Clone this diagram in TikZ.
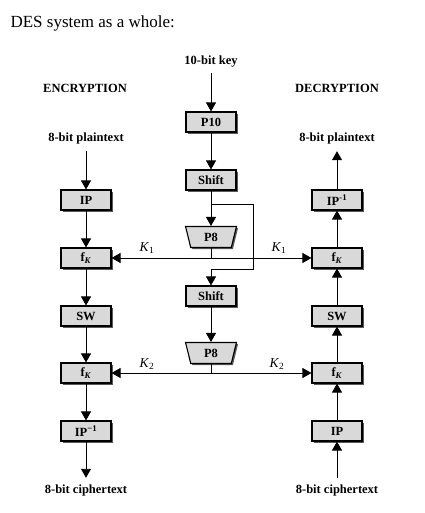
\documentclass[tikz,border=0pt]{standalone}
\usepackage{fontspec}
\setmainfont{Liberation Serif}
\usetikzlibrary{arrows.meta,shapes.geometric,shadows}

\begin{document}
\begin{tikzpicture}[x=1pt, y=-1pt,
    blk/.style={draw, line width=1.1pt, fill=gray!30, minimum width=50pt, minimum height=20pt,
        inner sep=0pt, font=\fontsize{12.5}{14}\selectfont\bfseries,
        drop shadow={shadow xshift=1.6pt, shadow yshift=-1.6pt, fill=black!65, opacity=1}},
    perm/.style={blk, trapezium, trapezium left angle=78, trapezium right angle=78,
        shape border rotate=180, trapezium stretches=true, minimum width=51pt, minimum height=21pt},
    lbl/.style={font=\fontsize{12.5}{14}\selectfont\bfseries},
    klbl/.style={font=\fontsize{13.5}{15}\selectfont},
    conn/.style={line width=0.9pt, -{Triangle[length=9pt, width=10pt]}},
    wire/.style={line width=0.9pt}]
    \useasboundingbox (0,0) rectangle (424,513);

    % Title and headings
    \node[anchor=base west, font=\fontsize{17}{20}\selectfont] (title) at (7,28) {DES system as a whole:};
    \node[lbl] (key) at (211,62) {10-bit key};
    \node[lbl] (enc) at (85,88) {ENCRYPTION};
    \node[lbl] (dec) at (337,88) {DECRYPTION};

    % Encryption column
    \node[lbl] (ptL) at (86,138) {8-bit plaintext};
    \node[blk] (ipL) at (86,200) {IP};
    \node[blk] (fkL1) at (86,258) {f\textsubscript{\textit{K}}};
    \node[blk] (swL) at (86,316) {SW};
    \node[blk] (fkL2) at (86,373) {f\textsubscript{\textit{K}}};
    \node[blk] (ipiL) at (86,431) {IP\textsuperscript{−1}};
    \node[lbl] (ctL) at (86,490) {8-bit ciphertext};

    % Key generation
    \node[blk] (p10) at (211,122) {P10};
    \node[blk] (sh1) at (211,180) {Shift};
    \node[perm] (p8a) at (211,237) {P8};
    \node[blk] (sh2) at (211,296) {Shift};
    \node[perm] (p8b) at (211,353) {P8};

    % Decryption column
    \node[lbl] (ptR) at (337,138) {8-bit plaintext};
    \node[blk] (ipiR) at (337,200) {IP\textsuperscript{-1}};
    \node[blk] (fkR1) at (337,258) {f\textsubscript{\textit{K}}};
    \node[blk] (swR) at (337,316) {SW};
    \node[blk] (fkR2) at (337,373) {f\textsubscript{\textit{K}}};
    \node[blk] (ipR) at (337,431) {IP};
    \node[lbl] (ctR) at (337,490) {8-bit ciphertext};

    % Subkey labels
    \node[klbl] (k1L) at (147,248) {\textit{K}\textsubscript{1}};
    \node[klbl] (k1R) at (279,248) {\textit{K}\textsubscript{1}};
    \node[klbl] (k2L) at (147,364) {\textit{K}\textsubscript{2}};
    \node[klbl] (k2R) at (277,364) {\textit{K}\textsubscript{2}};

    % Encryption flow
    \draw[conn, shorten <=4pt] (ptL) -- (ipL);
    \draw[conn] (ipL) -- (fkL1);
    \draw[conn] (fkL1) -- (swL);
    \draw[conn] (swL) -- (fkL2);
    \draw[conn] (fkL2) -- (ipiL);
    \draw[conn, shorten >=3pt] (ipiL) -- (ctL);

    % Decryption flow
    \draw[conn, shorten <=3pt] (ctR) -- (ipR);
    \draw[conn] (ipR) -- (fkR2);
    \draw[conn] (fkR2) -- (swR);
    \draw[conn] (swR) -- (fkR1);
    \draw[conn] (fkR1) -- (ipiR);
    \draw[conn, shorten >=4pt] (ipiR) -- (ptR);

    % Key schedule
    \coordinate (b1) at (211,204);
    \coordinate (b2) at (253,269);
    \coordinate (k1) at (p8a.south |- fkL1);
    \coordinate (k2) at (p8b.south |- fkL2);
    \draw[conn, shorten <=2pt] (key) -- (p10);
    \draw[conn] (p10) -- (sh1);
    \draw[conn] (sh1) -- (p8a);
    \draw[conn] (b1) -| (b2) -| (sh2.north);
    \draw[conn] (sh2) -- (p8b);
    \draw[wire] (p8a.south) -- (k1);
    \draw[wire] (p8b.south) -- (k2);
    \draw[conn] (k1) -- (fkL1);
    \draw[conn] (k1) -- (fkR1);
    \draw[conn] (k2) -- (fkL2);
    \draw[conn] (k2) -- (fkR2);
\end{tikzpicture}
\end{document}
